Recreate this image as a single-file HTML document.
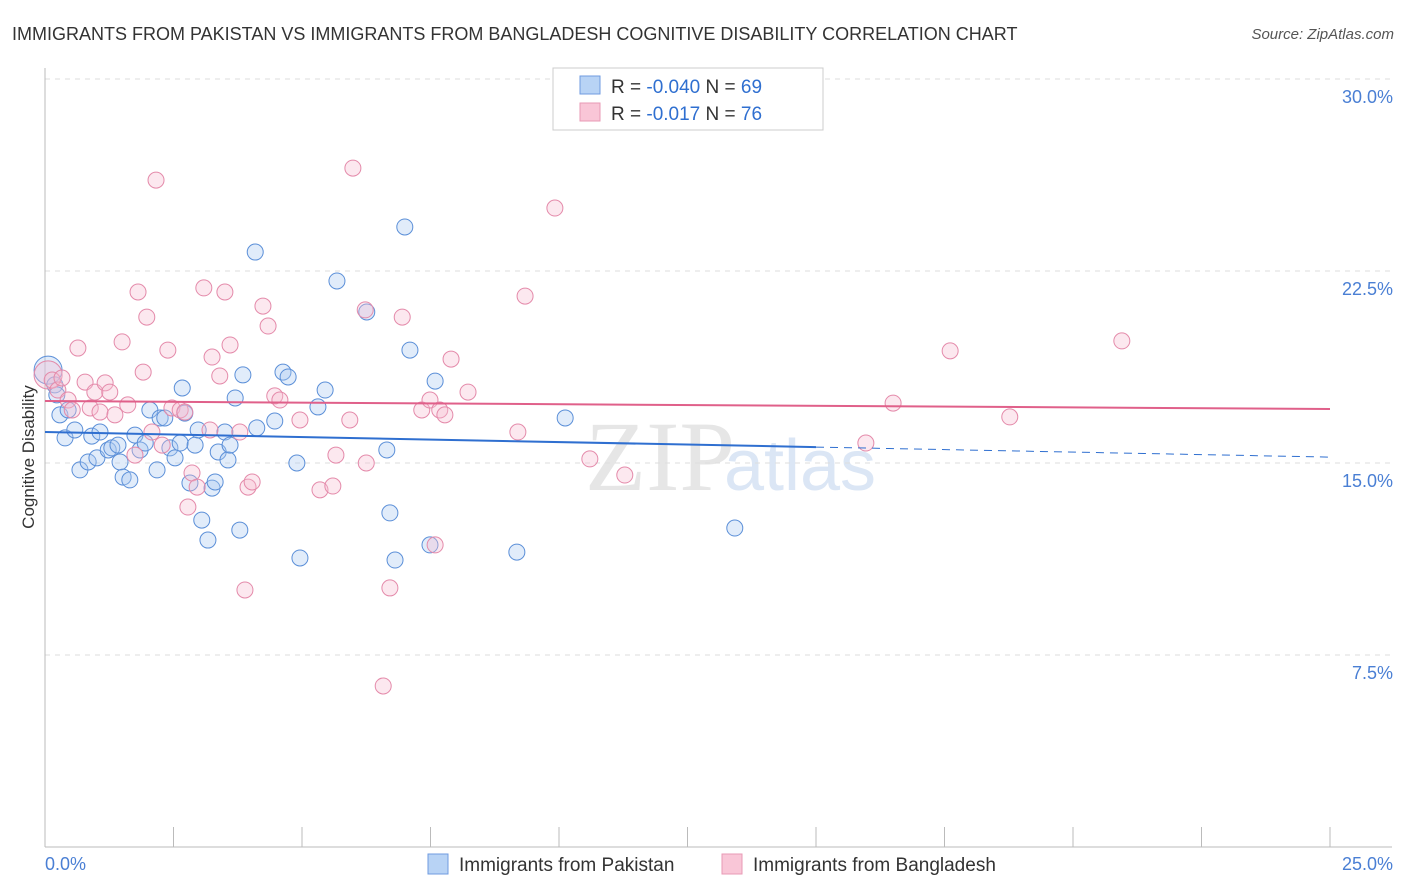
<!DOCTYPE html>
<html><head><meta charset="utf-8"><style>
body{margin:0;background:#fff;font-family:"Liberation Sans",sans-serif}
svg{display:block}
</style></head><body>
<svg id="c" width="1406" height="892"></svg>
<script>
const pkX=[0.06,0.19,0.23,0.29,0.39,0.45,0.58,0.68,0.84,0.91,1.01,1.07,1.23,1.30,1.42,1.46,1.52,1.65,1.75,1.85,1.95,2.04,2.18,2.24,2.33,2.43,2.53,2.63,2.67,2.72,2.82,2.92,2.98,3.05,3.17,3.25,3.31,3.37,3.50,3.56,3.60,3.70,3.79,3.85,4.09,4.12,4.47,4.63,4.73,4.90,4.96,5.31,5.45,5.68,6.26,6.65,6.71,6.81,7.00,7.10,7.49,7.59,9.18,10.12,13.42];
const pkY=[18.63,18.05,17.66,16.88,15.98,17.07,16.29,14.73,15.04,16.05,15.20,16.21,15.51,15.59,15.70,15.04,14.45,14.34,16.09,15.51,15.78,17.07,14.73,16.76,16.76,15.59,15.20,15.78,17.93,16.95,14.22,15.70,16.29,12.77,11.99,14.02,14.26,15.43,16.21,15.12,15.70,17.54,12.38,18.44,23.24,16.37,16.64,18.55,18.36,15.00,11.29,17.19,17.85,22.11,20.90,15.51,13.05,11.21,24.22,19.41,11.80,18.20,11.52,16.76,12.46];
const bdX=[0.06,0.14,0.25,0.33,0.45,0.53,0.64,0.78,0.88,0.97,1.07,1.17,1.26,1.36,1.50,1.61,1.75,1.81,1.91,1.98,2.08,2.16,2.28,2.39,2.47,2.63,2.72,2.78,2.86,2.96,3.09,3.21,3.25,3.40,3.50,3.60,3.79,3.89,3.95,4.03,4.24,4.34,4.47,4.57,4.96,5.35,5.60,5.66,5.93,5.99,6.23,6.25,6.58,6.71,6.95,7.33,7.49,7.59,7.68,7.78,7.90,8.23,9.20,9.34,9.92,10.60,11.28,15.97,16.50,17.61,18.77,20.95];
const bdY=[18.44,18.24,17.85,18.32,17.46,17.07,19.49,18.16,17.15,17.77,16.99,18.13,17.77,16.88,19.73,17.27,15.31,21.68,18.55,20.70,16.21,26.05,15.70,19.41,17.15,17.07,16.99,13.28,14.61,14.06,21.84,16.29,19.14,18.40,21.68,19.61,16.21,10.04,14.06,14.26,21.13,20.35,17.62,17.46,16.68,13.95,14.10,15.31,16.68,26.52,20.98,15.00,6.29,10.12,20.70,17.07,17.46,11.80,17.07,16.88,19.06,17.77,16.21,21.52,24.96,15.16,14.53,15.78,17.34,19.38,16.80,19.77];
const yTicks=[7.5,15,22.5,30];
const xTickLabels=["0.0%","25.0%"];
const pkTrend=[16.21,15.23];
const bdTrend=[17.42,17.11];

const X=v=>45+v/25*1285, Y=v=>847-v/30*768;
const s=document.getElementById('c'),NS='http://www.w3.org/2000/svg';
function el(t,a,txt){const e=document.createElementNS(NS,t);for(const k in a)e.setAttribute(k,a[k]);if(txt!=null)e.textContent=txt;s.appendChild(e);return e;}
let e;
e=el('text',{x:12,y:40,'font-size':18,fill:'#333'},'IMMIGRANTS FROM PAKISTAN VS IMMIGRANTS FROM BANGLADESH COGNITIVE DISABILITY CORRELATION CHART');

e=el('text',{x:1394,y:39,'font-size':15,fill:'#555','text-anchor':'end','font-style':'italic'},'Source: ZipAtlas.com');

e=el('text',{x:660,y:490,'font-size':100,fill:'#e6e6e6','text-anchor':'middle','font-family':'Liberation Serif'},'ZIP');

e=el('text',{x:800,y:490,'font-size':72,fill:'#dbe6f5','text-anchor':'middle'},'atlas');

for(const t of yTicks){
 e=el('line',{x1:45,x2:1392,y1:Y(t),y2:Y(t),stroke:'#ddd','stroke-dasharray':'5,5'});
 
 e=el('text',{x:1393,y:Y(t)+24,'font-size':18,fill:'#4a7fd4','text-anchor':'end'},t.toFixed(1)+'%');
 
}
e=el('line',{x1:45,x2:45,y1:68,y2:847,stroke:'#bbb'});
e=el('line',{x1:45,x2:1392,y1:847,y2:847,stroke:'#bbb'});
for(let i=0;i<=10;i++){e=el('line',{x1:X(i*2.5),x2:X(i*2.5),y1:827,y2:847,stroke:'#bbb'});}
e=el('text',{x:45,y:870,'font-size':18,fill:'#4a7fd4'},xTickLabels[0]);
e=el('text',{x:1393,y:870,'font-size':18,fill:'#4a7fd4','text-anchor':'end'},xTickLabels[1]);
e=el('text',{x:34,y:457,'font-size':17,fill:'#333','text-anchor':'middle',transform:'rotate(-90 34 457)'},'Cognitive Disability');

function pts(xs,ys,fill,stroke,name){for(let i=0;i<xs.length;i++){const p=el('circle',{cx:X(xs[i]),cy:Y(ys[i]),r:i==0?14:8,fill:fill,'fill-opacity':0.35,stroke:stroke,'stroke-width':1});
 
 }}
pts(pkX,pkY,'#a9c8f0','#5b8fd8','point-pakistan');
pts(bdX,bdY,'#f7bcd0','#e48aaa','point-bangladesh');
const yAt=(tr,x)=>tr[0]+(tr[1]-tr[0])*x/25;
e=el('line',{x1:X(0),y1:Y(yAt(pkTrend,0)),x2:X(15),y2:Y(yAt(pkTrend,15)),stroke:'#2f6fd0','stroke-width':2});

e=el('line',{x1:X(15),y1:Y(yAt(pkTrend,15)),x2:X(25),y2:Y(yAt(pkTrend,25)),stroke:'#2f6fd0','stroke-width':1,'stroke-dasharray':'8,6'});

e=el('line',{x1:X(0),y1:Y(bdTrend[0]),x2:X(25),y2:Y(bdTrend[1]),stroke:'#e0608a','stroke-width':2});

e=el('rect',{x:553,y:68,width:270,height:62,fill:'#fff',stroke:'#ccc'});
e=el('rect',{x:580,y:76,width:20,height:18,fill:'#b8d3f5',stroke:'#6f9be0'});
e=el('rect',{x:580,y:103,width:20,height:18,fill:'#f9c6d7',stroke:'#e89ab5'});
e=el('text',{x:611,y:93,'font-size':19,fill:'#333'});e.innerHTML='R = <tspan fill="#2f6fd0">-0.040</tspan>   N = <tspan fill="#2f6fd0">69</tspan>';
e.setAttribute('xml:space','preserve');
e=el('text',{x:611,y:120,'font-size':19,fill:'#333'});e.innerHTML='R =  <tspan fill="#2f6fd0">-0.017</tspan>   N =  <tspan fill="#2f6fd0">76</tspan>';
e.setAttribute('xml:space','preserve');
e=el('rect',{x:428,y:854,width:20,height:20,fill:'#b8d3f5',stroke:'#6f9be0'});
e=el('text',{x:459,y:871,'font-size':19,fill:'#333'},'Immigrants from Pakistan');
e=el('rect',{x:722,y:854,width:20,height:20,fill:'#f9c6d7',stroke:'#e89ab5'});
e=el('text',{x:753,y:871,'font-size':19,fill:'#333'},'Immigrants from Bangladesh');
</script>
</body></html>
